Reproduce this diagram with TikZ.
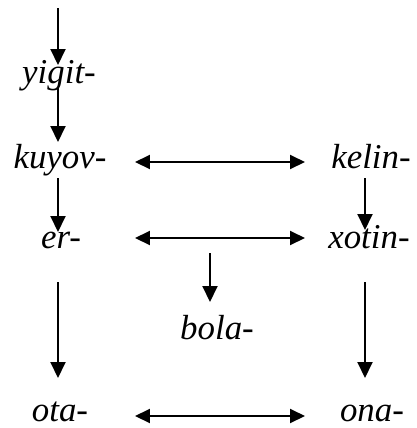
\documentclass[tikz,border=0pt]{standalone}
\usepackage{fontspec}
\setmainfont{Liberation Serif}
\usetikzlibrary{arrows.meta}
\begin{document}
\begin{tikzpicture}[x=1bp,y=-1bp,
  word/.style={inner sep=0pt,anchor=base,font=\fontsize{35}{40}\selectfont\itshape},
  arr/.style={line width=2bp,-{Triangle[width=15bp,length=16bp]}},
  darr/.style={line width=2bp,{Triangle[width=14bp,length=15bp]}-{Triangle[width=14bp,length=15bp]}}]
\useasboundingbox (0,0) rectangle (417,428);
\coordinate (L) at (58,0);
\coordinate (R) at (365,0);
\coordinate (M) at (210,0);
\coordinate (top) at (58,8);
\node[word] (yigit) at (59,83) {yigit-};
\node[word] (kuyov) at (60,168) {kuyov-};
\node[word] (er) at (61,248) {er-};
\node[word] (ota) at (60,421) {ota-};
\node[word] (kelin) at (371,168) {kelin-};
\node[word] (xotin) at (369,248) {xotin-};
\node[word] (ona) at (372,421) {ona-};
\node[word] (bola) at (217,339) {bola-};
% vertical arrows
\draw[arr] (top) -- ([yshift=18bp]yigit.base -| L);
\draw[arr] ([yshift=-5bp]yigit.base -| L) -- ([yshift=26bp]kuyov.base -| L);
\draw[arr] ([yshift=-10bp]kuyov.base -| L) -- ([yshift=16bp]er.base -| L);
\draw[arr] ([yshift=-10bp]kelin.base -| R) -- ([yshift=18bp]xotin.base -| R);
\draw[arr] ([yshift=-5bp]er.base -| M) -- ([yshift=37bp]bola.base -| M);
\draw[arr] ([yshift=-34bp]er.base -| L) -- ([yshift=43bp]ota.base -| L);
\draw[arr] ([yshift=-34bp]xotin.base -| R) -- ([yshift=43bp]ona.base -| R);
% horizontal double arrows
\draw[darr] ([xshift=-75bp,yshift=6bp]kuyov.base -| M) -- ([xshift=95bp,yshift=6bp]kuyov.base -| M);
\draw[darr] ([xshift=-75bp,yshift=10bp]er.base -| M) -- ([xshift=95bp,yshift=10bp]er.base -| M);
\draw[darr] ([xshift=-75bp,yshift=5bp]ota.base -| M) -- ([xshift=95bp,yshift=5bp]ota.base -| M);
\end{tikzpicture}
\end{document}
